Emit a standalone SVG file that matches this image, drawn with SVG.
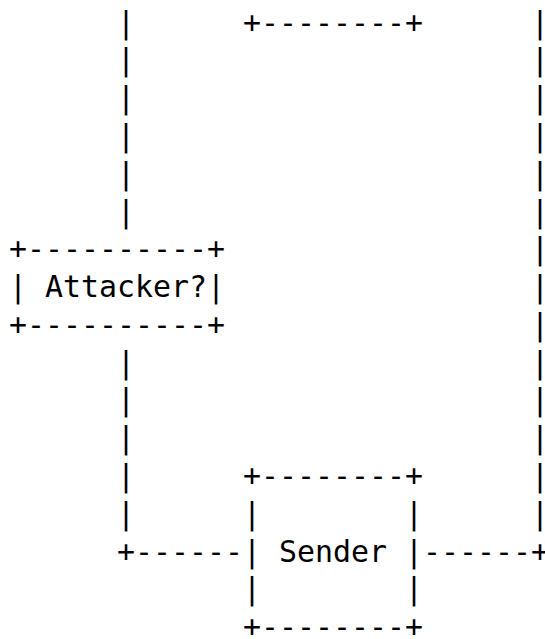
<svg xmlns="http://www.w3.org/2000/svg" width="545" height="639" viewBox="0 0 545 639">
<style>
text{font-family:"DejaVu Sans Mono","Liberation Mono",monospace;font-size:29.9px;fill:#000;white-space:pre}
.edge{letter-spacing:-5px}
</style>
<rect width="545" height="639" fill="#fff"/>
<g id="connectors">
<text x="117" y="32.6">|</text>
<text x="117" y="70.4">|</text>
<text x="117" y="108.2">|</text>
<text x="117" y="145.9">|</text>
<text x="117" y="183.7">|</text>
<text x="117" y="221.5">|</text>
<text x="117" y="372.6">|</text>
<text x="117" y="410.4">|</text>
<text x="117" y="448.2">|</text>
<text x="117" y="486.0">|</text>
<text x="117" y="523.7">|</text>
<text x="117" y="561.5">+------</text>
<text class="edge" x="531" y="32.6">|</text>
<text class="edge" x="531" y="70.4">|</text>
<text class="edge" x="531" y="108.2">|</text>
<text class="edge" x="531" y="145.9">|</text>
<text class="edge" x="531" y="183.7">|</text>
<text class="edge" x="531" y="221.5">|</text>
<text class="edge" x="531" y="259.3">|</text>
<text class="edge" x="531" y="297.1">|</text>
<text class="edge" x="531" y="334.8">|</text>
<text class="edge" x="531" y="372.6">|</text>
<text class="edge" x="531" y="410.4">|</text>
<text class="edge" x="531" y="448.2">|</text>
<text class="edge" x="531" y="486.0">|</text>
<text class="edge" x="531" y="523.7">|</text>
<text x="423" y="561.5">------</text>
<text class="edge" x="531" y="561.5">+</text>
</g>
<g id="top-box">
<text x="243" y="32.6">+--------+</text>
</g>
<g id="attacker">
<text x="9" y="259.3">+----------+</text>
<text x="9" y="297.1">| Attacker?|</text>
<text x="9" y="334.8">+----------+</text>
</g>
<g id="sender">
<text x="243" y="486.0">+--------+</text>
<text x="243" y="523.7">|        |</text>
<text x="243" y="561.5">| Sender |</text>
<text x="243" y="599.3">|        |</text>
<text x="243" y="637.1">+--------+</text>
</g>
</svg>
